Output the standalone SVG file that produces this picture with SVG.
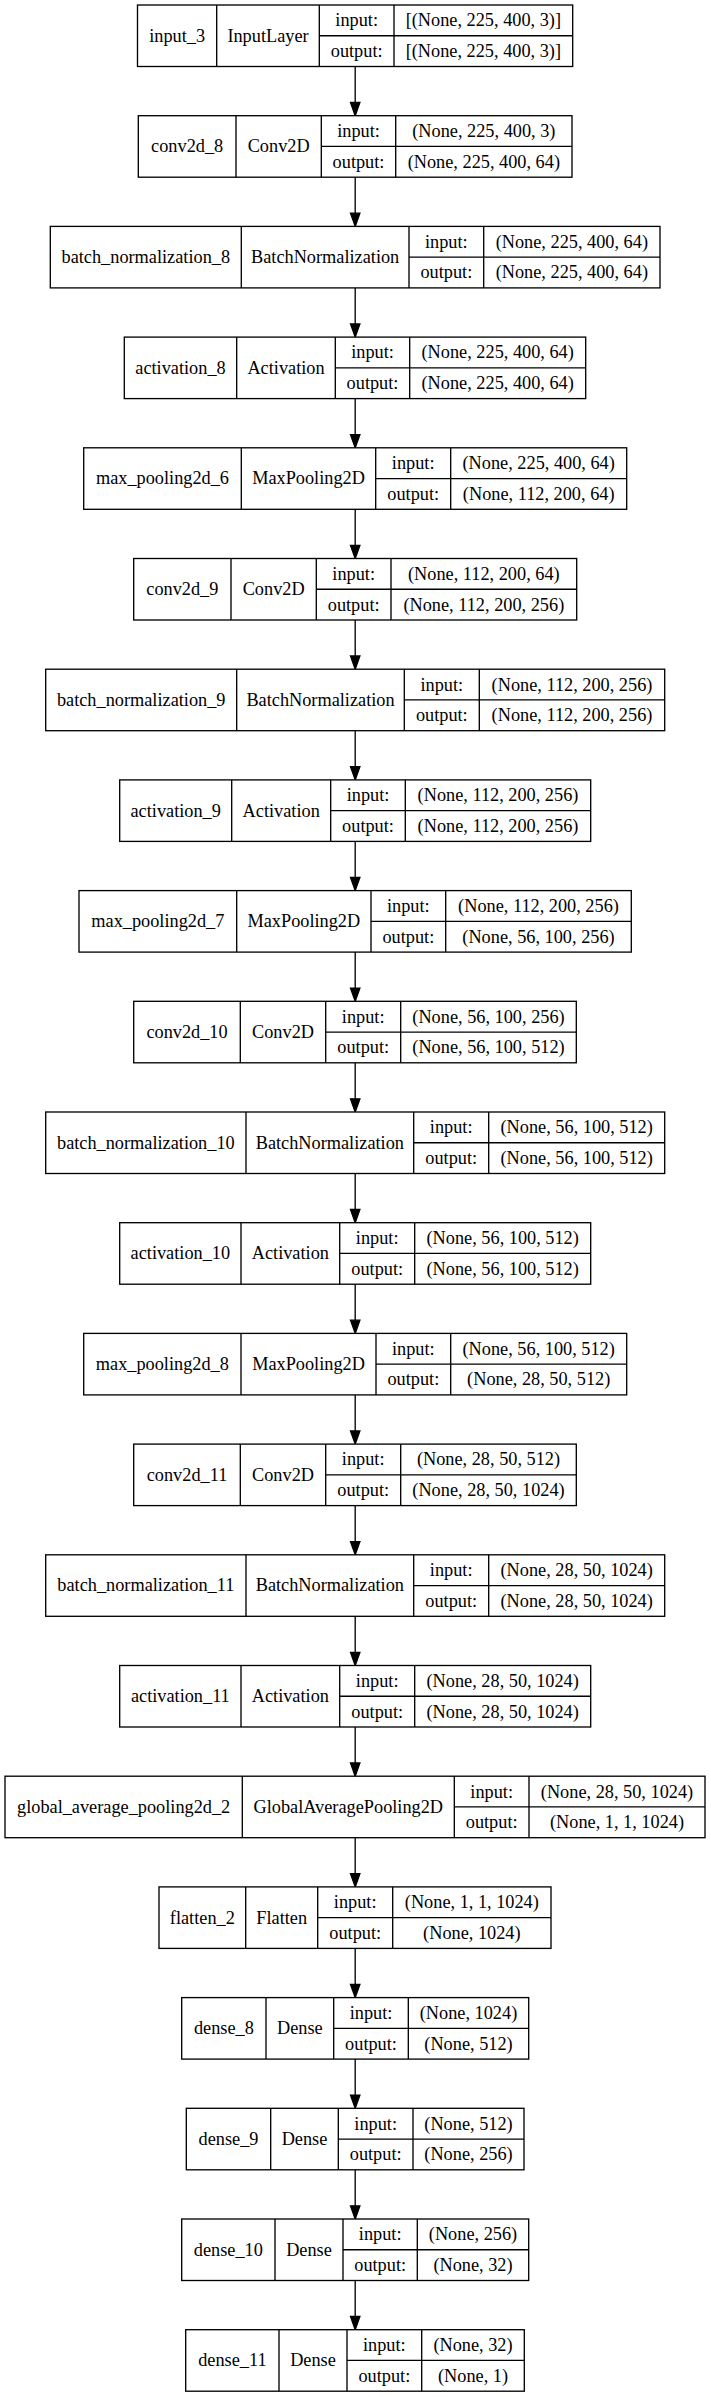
<svg xmlns="http://www.w3.org/2000/svg" width="711" height="2397" viewBox="0 0 711 2397">
<style>
.b{fill:#fff;stroke:#000;stroke-width:1.33}
.l{fill:none;stroke:#000;stroke-width:1.33}
text{font-family:"Liberation Serif","Times New Roman",serif;font-size:18.3px;fill:#000;text-anchor:middle}
.e{stroke:#000;stroke-width:1.33;fill:none}
.h{fill:#000;stroke:#000;stroke-width:1.33}
</style>
<rect width="711" height="2397" fill="#fff"/>
<g id="connectors">
<path class="e" d="M355.2 66.5V102.5M355.2 177.2V213.2M355.2 287.9V323.9M355.2 398.6V434.6M355.2 509.3V545.3M355.2 620V656M355.2 730.7V766.7M355.2 841.4V877.4M355.2 952.1V988.1M355.2 1062.8V1098.8M355.2 1173.5V1209.5M355.2 1284.2V1320.2M355.2 1394.9V1430.9M355.2 1505.6V1541.6M355.2 1616.3V1652.3M355.2 1727V1763M355.2 1837.7V1873.7M355.2 1948.4V1984.4M355.2 2059.1V2095.1M355.2 2169.8V2205.8M355.2 2280.5V2316.5"/>
<path class="h" d="M355.2 115.7l-4.7-13.2h9.4zM355.2 226.4l-4.7-13.2h9.4zM355.2 337.1l-4.7-13.2h9.4zM355.2 447.8l-4.7-13.2h9.4zM355.2 558.5l-4.7-13.2h9.4zM355.2 669.2l-4.7-13.2h9.4zM355.2 779.9l-4.7-13.2h9.4zM355.2 890.6l-4.7-13.2h9.4zM355.2 1001.3l-4.7-13.2h9.4zM355.2 1112l-4.7-13.2h9.4zM355.2 1222.7l-4.7-13.2h9.4zM355.2 1333.4l-4.7-13.2h9.4zM355.2 1444.1l-4.7-13.2h9.4zM355.2 1554.8l-4.7-13.2h9.4zM355.2 1665.5l-4.7-13.2h9.4zM355.2 1776.2l-4.7-13.2h9.4zM355.2 1886.9l-4.7-13.2h9.4zM355.2 1997.6l-4.7-13.2h9.4zM355.2 2108.3l-4.7-13.2h9.4zM355.2 2219l-4.7-13.2h9.4zM355.2 2329.7l-4.7-13.2h9.4z"/>
</g>
<g id="n0" transform="translate(0,5)"><rect class="b" x="137.5" y="0" width="435.2" height="61.5"/><path class="l" d="M216.7 0V61.5M319.3 0V61.5M394 0V61.5M319.3 30.75H572.7"/><text x="177.1" y="36.7">input_3</text><text x="268" y="36.7">InputLayer</text><text x="356.65" y="21.4">input:</text><text x="356.65" y="52.1">output:</text><text x="483.35" y="21.4">[(None, 225, 400, 3)]</text><text x="483.35" y="52.1">[(None, 225, 400, 3)]</text></g>
<g id="n1" transform="translate(0,115.7)"><rect class="b" x="138.3" y="0" width="433.7" height="61.5"/><path class="l" d="M236 0V61.5M321.3 0V61.5M395.7 0V61.5M321.3 30.75H572"/><text x="187.15" y="36.7">conv2d_8</text><text x="278.65" y="36.7">Conv2D</text><text x="358.5" y="21.4">input:</text><text x="358.5" y="52.1">output:</text><text x="483.85" y="21.4">(None, 225, 400, 3)</text><text x="483.85" y="52.1">(None, 225, 400, 64)</text></g>
<g id="n2" transform="translate(0,226.4)"><rect class="b" x="50.3" y="0" width="609.7" height="61.5"/><path class="l" d="M241.3 0V61.5M409 0V61.5M483.7 0V61.5M409 30.75H660"/><text x="145.8" y="36.7">batch_normalization_8</text><text x="325.15" y="36.7">BatchNormalization</text><text x="446.35" y="21.4">input:</text><text x="446.35" y="52.1">output:</text><text x="571.85" y="21.4">(None, 225, 400, 64)</text><text x="571.85" y="52.1">(None, 225, 400, 64)</text></g>
<g id="n3" transform="translate(0,337.1)"><rect class="b" x="124.3" y="0" width="461.4" height="61.5"/><path class="l" d="M236.7 0V61.5M335.3 0V61.5M409.7 0V61.5M335.3 30.75H585.7"/><text x="180.5" y="36.7">activation_8</text><text x="286" y="36.7">Activation</text><text x="372.5" y="21.4">input:</text><text x="372.5" y="52.1">output:</text><text x="497.7" y="21.4">(None, 225, 400, 64)</text><text x="497.7" y="52.1">(None, 225, 400, 64)</text></g>
<g id="n4" transform="translate(0,447.8)"><rect class="b" x="83.7" y="0" width="543" height="61.5"/><path class="l" d="M241.3 0V61.5M375.7 0V61.5M450.7 0V61.5M375.7 30.75H626.7"/><text x="162.5" y="36.7">max_pooling2d_6</text><text x="308.5" y="36.7">MaxPooling2D</text><text x="413.2" y="21.4">input:</text><text x="413.2" y="52.1">output:</text><text x="538.7" y="21.4">(None, 225, 400, 64)</text><text x="538.7" y="52.1">(None, 112, 200, 64)</text></g>
<g id="n5" transform="translate(0,558.5)"><rect class="b" x="133.7" y="0" width="443" height="61.5"/><path class="l" d="M231 0V61.5M316.3 0V61.5M391 0V61.5M316.3 30.75H576.7"/><text x="182.35" y="36.7">conv2d_9</text><text x="273.65" y="36.7">Conv2D</text><text x="353.65" y="21.4">input:</text><text x="353.65" y="52.1">output:</text><text x="483.85" y="21.4">(None, 112, 200, 64)</text><text x="483.85" y="52.1">(None, 112, 200, 256)</text></g>
<g id="n6" transform="translate(0,669.2)"><rect class="b" x="45.7" y="0" width="619" height="61.5"/><path class="l" d="M236.7 0V61.5M404.3 0V61.5M479.3 0V61.5M404.3 30.75H664.7"/><text x="141.2" y="36.7">batch_normalization_9</text><text x="320.5" y="36.7">BatchNormalization</text><text x="441.8" y="21.4">input:</text><text x="441.8" y="52.1">output:</text><text x="572" y="21.4">(None, 112, 200, 256)</text><text x="572" y="52.1">(None, 112, 200, 256)</text></g>
<g id="n7" transform="translate(0,779.9)"><rect class="b" x="119.7" y="0" width="471" height="61.5"/><path class="l" d="M231.7 0V61.5M330.7 0V61.5M405.3 0V61.5M330.7 30.75H590.7"/><text x="175.7" y="36.7">activation_9</text><text x="281.2" y="36.7">Activation</text><text x="368" y="21.4">input:</text><text x="368" y="52.1">output:</text><text x="498" y="21.4">(None, 112, 200, 256)</text><text x="498" y="52.1">(None, 112, 200, 256)</text></g>
<g id="n8" transform="translate(0,890.6)"><rect class="b" x="79" y="0" width="552.3" height="61.5"/><path class="l" d="M236.7 0V61.5M371 0V61.5M445.7 0V61.5M371 30.75H631.3"/><text x="157.85" y="36.7">max_pooling2d_7</text><text x="303.85" y="36.7">MaxPooling2D</text><text x="408.35" y="21.4">input:</text><text x="408.35" y="52.1">output:</text><text x="538.5" y="21.4">(None, 112, 200, 256)</text><text x="538.5" y="52.1">(None, 56, 100, 256)</text></g>
<g id="n9" transform="translate(0,1001.3)"><rect class="b" x="133.7" y="0" width="442.6" height="61.5"/><path class="l" d="M240.3 0V61.5M325.7 0V61.5M400.7 0V61.5M325.7 30.75H576.3"/><text x="187" y="36.7">conv2d_10</text><text x="283" y="36.7">Conv2D</text><text x="363.2" y="21.4">input:</text><text x="363.2" y="52.1">output:</text><text x="488.5" y="21.4">(None, 56, 100, 256)</text><text x="488.5" y="52.1">(None, 56, 100, 512)</text></g>
<g id="n10" transform="translate(0,1112)"><rect class="b" x="45.7" y="0" width="619" height="61.5"/><path class="l" d="M246 0V61.5M413.7 0V61.5M488.7 0V61.5M413.7 30.75H664.7"/><text x="145.85" y="36.7">batch_normalization_10</text><text x="329.85" y="36.7">BatchNormalization</text><text x="451.2" y="21.4">input:</text><text x="451.2" y="52.1">output:</text><text x="576.7" y="21.4">(None, 56, 100, 512)</text><text x="576.7" y="52.1">(None, 56, 100, 512)</text></g>
<g id="n11" transform="translate(0,1222.7)"><rect class="b" x="119.7" y="0" width="471" height="61.5"/><path class="l" d="M241 0V61.5M339.7 0V61.5M414.7 0V61.5M339.7 30.75H590.7"/><text x="180.35" y="36.7">activation_10</text><text x="290.35" y="36.7">Activation</text><text x="377.2" y="21.4">input:</text><text x="377.2" y="52.1">output:</text><text x="502.7" y="21.4">(None, 56, 100, 512)</text><text x="502.7" y="52.1">(None, 56, 100, 512)</text></g>
<g id="n12" transform="translate(0,1333.4)"><rect class="b" x="83.7" y="0" width="543" height="61.5"/><path class="l" d="M241 0V61.5M376 0V61.5M450.7 0V61.5M376 30.75H626.7"/><text x="162.35" y="36.7">max_pooling2d_8</text><text x="308.5" y="36.7">MaxPooling2D</text><text x="413.35" y="21.4">input:</text><text x="413.35" y="52.1">output:</text><text x="538.7" y="21.4">(None, 56, 100, 512)</text><text x="538.7" y="52.1">(None, 28, 50, 512)</text></g>
<g id="n13" transform="translate(0,1444.1)"><rect class="b" x="133.7" y="0" width="442.6" height="61.5"/><path class="l" d="M240.3 0V61.5M325.7 0V61.5M400.7 0V61.5M325.7 30.75H576.3"/><text x="187" y="36.7">conv2d_11</text><text x="283" y="36.7">Conv2D</text><text x="363.2" y="21.4">input:</text><text x="363.2" y="52.1">output:</text><text x="488.5" y="21.4">(None, 28, 50, 512)</text><text x="488.5" y="52.1">(None, 28, 50, 1024)</text></g>
<g id="n14" transform="translate(0,1554.8)"><rect class="b" x="45.7" y="0" width="619" height="61.5"/><path class="l" d="M246 0V61.5M413.7 0V61.5M488.7 0V61.5M413.7 30.75H664.7"/><text x="145.85" y="36.7">batch_normalization_11</text><text x="329.85" y="36.7">BatchNormalization</text><text x="451.2" y="21.4">input:</text><text x="451.2" y="52.1">output:</text><text x="576.7" y="21.4">(None, 28, 50, 1024)</text><text x="576.7" y="52.1">(None, 28, 50, 1024)</text></g>
<g id="n15" transform="translate(0,1665.5)"><rect class="b" x="119.7" y="0" width="471" height="61.5"/><path class="l" d="M241 0V61.5M339.7 0V61.5M414.7 0V61.5M339.7 30.75H590.7"/><text x="180.35" y="36.7">activation_11</text><text x="290.35" y="36.7">Activation</text><text x="377.2" y="21.4">input:</text><text x="377.2" y="52.1">output:</text><text x="502.7" y="21.4">(None, 28, 50, 1024)</text><text x="502.7" y="52.1">(None, 28, 50, 1024)</text></g>
<g id="n16" transform="translate(0,1776.2)"><rect class="b" x="5" y="0" width="700" height="61.5"/><path class="l" d="M242.3 0V61.5M454.3 0V61.5M529 0V61.5M454.3 30.75H705"/><text x="123.65" y="36.7">global_average_pooling2d_2</text><text x="348.3" y="36.7">GlobalAveragePooling2D</text><text x="491.65" y="21.4">input:</text><text x="491.65" y="52.1">output:</text><text x="617" y="21.4">(None, 28, 50, 1024)</text><text x="617" y="52.1">(None, 1, 1, 1024)</text></g>
<g id="n17" transform="translate(0,1886.9)"><rect class="b" x="159" y="0" width="392" height="61.5"/><path class="l" d="M245.7 0V61.5M317.7 0V61.5M392.7 0V61.5M317.7 30.75H551"/><text x="202.35" y="36.7">flatten_2</text><text x="281.7" y="36.7">Flatten</text><text x="355.2" y="21.4">input:</text><text x="355.2" y="52.1">output:</text><text x="471.85" y="21.4">(None, 1, 1, 1024)</text><text x="471.85" y="52.1">(None, 1024)</text></g>
<g id="n18" transform="translate(0,1997.6)"><rect class="b" x="181.7" y="0" width="347" height="61.5"/><path class="l" d="M266 0V61.5M333.7 0V61.5M408.3 0V61.5M333.7 30.75H528.7"/><text x="223.85" y="36.7">dense_8</text><text x="299.85" y="36.7">Dense</text><text x="371" y="21.4">input:</text><text x="371" y="52.1">output:</text><text x="468.5" y="21.4">(None, 1024)</text><text x="468.5" y="52.1">(None, 512)</text></g>
<g id="n19" transform="translate(0,2108.3)"><rect class="b" x="186.3" y="0" width="337.7" height="61.5"/><path class="l" d="M270.7 0V61.5M338.3 0V61.5M413 0V61.5M338.3 30.75H524"/><text x="228.5" y="36.7">dense_9</text><text x="304.5" y="36.7">Dense</text><text x="375.65" y="21.4">input:</text><text x="375.65" y="52.1">output:</text><text x="468.5" y="21.4">(None, 512)</text><text x="468.5" y="52.1">(None, 256)</text></g>
<g id="n20" transform="translate(0,2219)"><rect class="b" x="181.7" y="0" width="347" height="61.5"/><path class="l" d="M275 0V61.5M343 0V61.5M417.3 0V61.5M343 30.75H528.7"/><text x="228.35" y="36.7">dense_10</text><text x="309" y="36.7">Dense</text><text x="380.15" y="21.4">input:</text><text x="380.15" y="52.1">output:</text><text x="473" y="21.4">(None, 256)</text><text x="473" y="52.1">(None, 32)</text></g>
<g id="n21" transform="translate(0,2329.7)"><rect class="b" x="185.7" y="0" width="338.6" height="61.5"/><path class="l" d="M279 0V61.5M347 0V61.5M421.7 0V61.5M347 30.75H524.3"/><text x="232.35" y="36.7">dense_11</text><text x="313" y="36.7">Dense</text><text x="384.35" y="21.4">input:</text><text x="384.35" y="52.1">output:</text><text x="473" y="21.4">(None, 32)</text><text x="473" y="52.1">(None, 1)</text></g>
</svg>
